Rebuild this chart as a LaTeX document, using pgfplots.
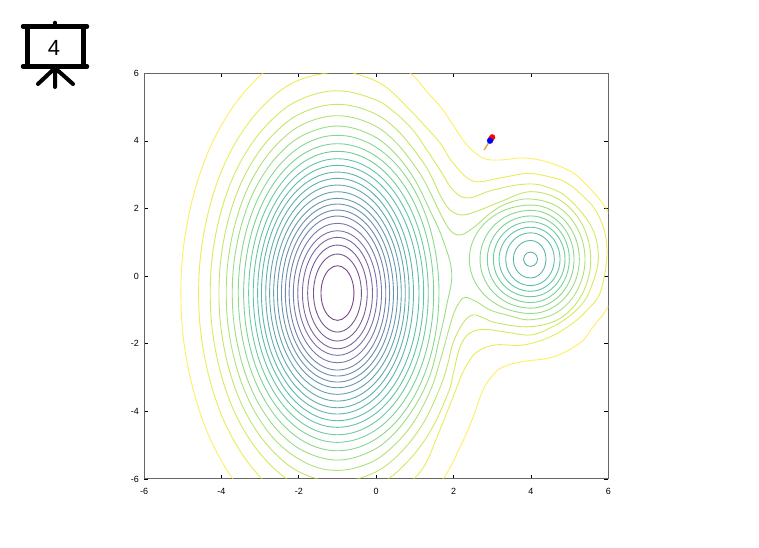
\documentclass[border=0pt]{standalone}
\usepackage{fontspec}
\setmainfont{Liberation Sans}
\usepackage{pgfplots}
\pgfplotsset{compat=1.18}
\definecolor{c1}{HTML}{440154}\definecolor{c2}{HTML}{471164}\definecolor{c3}{HTML}{481F70}\definecolor{c4}{HTML}{472D7B}\definecolor{c5}{HTML}{443A83}
\definecolor{c6}{HTML}{404688}\definecolor{c7}{HTML}{3B528B}\definecolor{c8}{HTML}{365D8D}\definecolor{c9}{HTML}{31688E}\definecolor{c10}{HTML}{2C728E}
\definecolor{c11}{HTML}{287C8E}\definecolor{c12}{HTML}{24868E}\definecolor{c13}{HTML}{21908C}\definecolor{c14}{HTML}{1F9A8A}\definecolor{c15}{HTML}{20A486}
\definecolor{c16}{HTML}{27AD81}\definecolor{c17}{HTML}{35B779}\definecolor{c18}{HTML}{47C16E}\definecolor{c19}{HTML}{5DC863}\definecolor{c20}{HTML}{75D054}
\definecolor{c21}{HTML}{8FD744}\definecolor{c22}{HTML}{AADC32}\definecolor{c23}{HTML}{C7E020}\definecolor{c24}{HTML}{E3E418}\definecolor{c25}{HTML}{FDE725}
\pgfplotsset{ct/.style={#1,line width=0.9bp,mark=none,smooth cycle,tension=0.63,opacity=0.72}}
\begin{document}
\begin{tikzpicture}[x=1bp,y=1bp]
\useasboundingbox (0,0) rectangle (759,548);
\begin{axis}[at={(144bp,69bp)},anchor=south west,scale only axis,width=464.3bp,height=405.7bp,
 xmin=-6,xmax=6,ymin=-6,ymax=6,
 xtick={-6,-4,-2,0,2,4,6},ytick={-6,-4,-2,0,2,4,6},
 xticklabels={-6,-4,-2,0,2,4,6},yticklabels={-6,-4,-2,0,2,4,6},
 tick align=inside,major tick length=4bp,
 tick style={black,line width=0.6bp},
 axis line style={black!60,line width=1bp},
 tick label style={font=\fontsize{9}{10}\selectfont,inner sep=0pt},
 xticklabel shift=9bp,yticklabel shift=5bp,
 axis on top=false]
% main well
\addplot[ct=c1] coordinates {(-.574,-.5)(-.631,-.096)(-.787,.199)(-1,.308)(-1.213,.199)(-1.369,-.096)(-1.426,-.5)(-1.369,-.904)(-1.213,-1.199)(-1,-1.308)(-.787,-1.199)(-.631,-.904)};
\addplot[ct=c2] coordinates {(-.380,-.5)(-.463,.077)(-.690,.499)(-1,.654)(-1.310,.499)(-1.537,.077)(-1.620,-.5)(-1.537,-1.077)(-1.310,-1.499)(-1,-1.654)(-.690,-1.499)(-.463,-1.077)};
\addplot[ct=c3] coordinates {(-.230,-.5)(-.333,.210)(-.615,.730)(-1,.920)(-1.385,.730)(-1.667,.210)(-1.770,-.5)(-1.667,-1.210)(-1.385,-1.730)(-1,-1.920)(-.615,-1.730)(-.333,-1.210)};
\addplot[ct=c4] coordinates {(-.095,-.5)(-.216,.324)(-.548,.927)(-1,1.148)(-1.452,.927)(-1.784,.324)(-1.905,-.5)(-1.784,-1.324)(-1.452,-1.927)(-1,-2.148)(-.548,-1.927)(-.216,-1.324)};
\addplot[ct=c5] coordinates {(.026,-.5)(-.111,.421)(-.487,1.096)(-1,1.343)(-1.513,1.096)(-1.889,.421)(-2.026,-.5)(-1.889,-1.421)(-1.513,-2.096)(-1,-2.343)(-.487,-2.096)(-.111,-1.421)};
\addplot[ct=c6] coordinates {(.140,-.5)(-.013,.531)(-.430,1.286)(-1,1.562)(-1.570,1.286)(-1.987,.531)(-2.140,-.5)(-1.987,-1.531)(-1.570,-2.286)(-1,-2.562)(-.430,-2.286)(-.013,-1.531)};
\addplot[ct=c7] coordinates {(.249,-.5)(.081,.639)(-.376,1.472)(-1,1.778)(-1.624,1.472)(-2.081,.639)(-2.249,-.5)(-2.081,-1.639)(-1.624,-2.472)(-1,-2.778)(-.376,-2.472)(.081,-1.639)};
\addplot[ct=c8] coordinates {(.347,-.5)(.166,.728)(-.327,1.626)(-1,1.955)(-1.673,1.626)(-2.166,.728)(-2.347,-.5)(-2.166,-1.728)(-1.673,-2.626)(-1,-2.955)(-.327,-2.626)(.166,-1.728)};
\addplot[ct=c9] coordinates {(.448,-.5)(.254,.816)(-.276,1.780)(-1,2.133)(-1.724,1.780)(-2.254,.816)(-2.448,-.5)(-2.254,-1.816)(-1.724,-2.780)(-1,-3.133)(-.276,-2.780)(.254,-1.816)};
\addplot[ct=c10] coordinates {(.551,-.5)(.343,.901)(-.224,1.926)(-1,2.301)(-1.776,1.926)(-2.343,.901)(-2.551,-.5)(-2.343,-1.901)(-1.776,-2.926)(-1,-3.301)(-.224,-2.926)(.343,-1.901)};
\addplot[ct=c11] coordinates {(.649,-.5)(.428,.998)(-.175,2.095)(-1,2.496)(-1.825,2.095)(-2.428,.998)(-2.649,-.5)(-2.428,-1.998)(-1.825,-3.095)(-1,-3.496)(-.175,-3.095)(.428,-1.998)};
\addplot[ct=c12] coordinates {(.753,-.5)(.518,1.097)(-.124,2.267)(-1,2.695)(-1.876,2.267)(-2.518,1.097)(-2.753,-.5)(-2.518,-2.097)(-1.876,-3.267)(-1,-3.695)(-.124,-3.267)(.518,-2.097)};
\addplot[ct=c13] coordinates {(.853,-.5)(.605,1.196)(-.073,2.438)(-1,2.893)(-1.927,2.438)(-2.605,1.196)(-2.853,-.5)(-2.605,-2.196)(-1.927,-3.438)(-1,-3.893)(-.073,-3.438)(.605,-2.196)};
\addplot[ct=c14] coordinates {(.965,-.5)(.701,1.290)(-.018,2.600)(-1,3.079)(-1.982,2.600)(-2.701,1.290)(-2.965,-.5)(-2.701,-2.290)(-1.982,-3.600)(-1,-4.079)(-.018,-3.600)(.701,-2.290)};
\addplot[ct=c15] coordinates {(1.107,-.5)(.824,1.389)(.053,2.771)(-1,3.277)(-2.031,2.771)(-2.786,1.389)(-3.063,-.5)(-2.786,-2.389)(-2.031,-3.771)(-1,-4.277)(.053,-3.771)(.824,-2.389)};
\addplot[ct=c16] coordinates {(1.228,-.5)(.930,1.486)(.114,2.940)(-1,3.473)(-2.088,2.940)(-2.885,1.486)(-3.177,-.5)(-2.885,-2.486)(-2.088,-3.940)(-1,-4.473)(.114,-3.940)(.930,-2.486)};
\addplot[ct=c17] coordinates {(1.347,-.5)(1.033,1.596)(.174,3.130)(-1,3.692)(-2.148,3.130)(-2.988,1.596)(-3.295,-.5)(-2.988,-2.596)(-2.148,-4.130)(-1,-4.692)(.174,-4.130)(1.033,-2.596)};
\addplot[ct=c18] coordinates {(1.487,-.5)(1.154,1.708)(.243,3.325)(-1,3.916)(-2.212,3.325)(-3.100,1.708)(-3.425,-.5)(-3.100,-2.708)(-2.212,-4.325)(-1,-4.916)(.243,-4.325)(1.154,-2.708)};
\addplot[ct=c19] coordinates {(1.624,-.5)(1.272,1.832)(.312,3.540)(-1,4.165)(-2.282,3.540)(-3.221,1.832)(-3.564,-.5)(-3.221,-2.832)(-2.282,-4.540)(-1,-5.165)(.312,-4.540)(1.272,-2.832)};
\addplot[ct=c20] coordinates {(1.953,.094)(1.728,1.069)(1.379,1.972)(.941,2.958)(.36,3.778)(-.25,4.24)(-1,4.440)(-1.75,4.24)(-2.360,3.778)(-2.922,2.993)(-3.355,1.970)(-3.632,.735)(-3.719,-.5)(-3.632,-1.735)(-3.355,-2.970)(-2.922,-3.993)(-2.360,-4.778)(-1.75,-5.24)(-1,-5.440)(-.25,-5.24)(.36,-4.778)(.941,-3.958)(1.379,-2.970)(1.625,-1.888)(1.824,-.853)};
% second well
\addplot[ct=c13] coordinates {(4.171,.5)(4.147,.606)(4.080,.684)(3.99,.713)(3.900,.684)(3.833,.606)(3.809,.5)(3.833,.394)(3.900,.316)(3.99,.287)(4.080,.316)(4.147,.394)};
\addplot[ct=c14] coordinates {(4.391,.5)(4.337,.778)(4.190,.982)(3.99,1.056)(3.768,.982)(3.605,.778)(3.545,.5)(3.605,.222)(3.768,.018)(3.99,-.056)(4.190,.018)(4.337,.222)};
\addplot[ct=c15] coordinates {(4.605,.5)(4.523,.890)(4.298,1.176)(3.99,1.281)(3.670,1.176)(3.435,.890)(3.349,.5)(3.435,.110)(3.670,-.176)(3.99,-.281)(4.298,-.176)(4.523,.110)};
\addplot[ct=c16] coordinates {(4.753,.5)(4.650,.973)(4.371,1.320)(3.99,1.447)(3.583,1.320)(3.285,.973)(3.176,.5)(3.285,.027)(3.583,-.320)(3.99,-.447)(4.371,-.320)(4.650,.027)};
\addplot[ct=c17] coordinates {(4.882,.5)(4.762,1.055)(4.436,1.461)(3.99,1.609)(3.509,1.461)(3.157,1.055)(3.028,.5)(3.157,-.055)(3.509,-.461)(3.99,-.609)(4.436,-.461)(4.762,-.055)};
\addplot[ct=c18] coordinates {(4.993,.5)(4.859,1.140)(4.491,1.609)(3.99,1.781)(3.432,1.609)(3.023,1.140)(2.873,.5)(3.023,-.140)(3.432,-.609)(3.99,-.781)(4.491,-.609)(4.859,-.140)};
\addplot[ct=c19] coordinates {(5.114,.5)(4.964,1.223)(4.552,1.752)(3.99,1.946)(3.337,1.752)(2.860,1.223)(2.685,.5)(2.860,-.223)(3.337,-.752)(3.99,-.946)(4.552,-.752)(4.964,-.223)};
\addplot[ct=c20] coordinates {(5.251,.5)(5.082,1.302)(4.621,1.888)(3.99,2.103)(3.199,1.888)(2.620,1.302)(2.408,.5)(2.620,-.302)(3.199,-.888)(3.99,-1.103)(4.621,-.888)(5.082,-.302)};
% contours around both wells
\addplot[ct=c21] coordinates {(-1,4.745)(-1.805,4.535)(-2.437,4.042)(-3.033,3.208)(-3.489,2.122)(-3.783,.811)(-3.875,-.5)(-3.783,-1.811)(-3.489,-3.122)(-3.033,-4.208)(-2.437,-5.042)(-1.69,-5.59)(-1,-5.745)(-.31,-5.59)(.254,-5.22)(.9,-4.434)(1.4,-3.385)(1.67,-2.44)(1.85,-1.7)(2.0,-1.12)(2.15,-.78)(2.297,-.625)(2.607,-.764)(2.943,-1.001)(3.382,-1.149)(3.99,-1.291)(4.700,-1.051)(5.207,-.397)(5.398,.499)(5.207,1.395)(4.700,2.046)(3.99,2.282)(3.382,2.149)(2.943,1.853)(2.503,1.425)(2.167,1.217)(1.909,1.365)(1.651,1.868)(1.386,2.5)(1.053,3.17)(.437,4.042)(-.195,4.535)};
\addplot[ct=c22] coordinates {(-1,5.082)(-1.858,4.86)(-2.532,4.334)(-3.166,3.447)(-3.653,2.291)(-3.965,.896)(-4.063,-.5)(-3.965,-1.896)(-3.653,-3.291)(-3.166,-4.447)(-2.532,-5.334)(-1.858,-5.86)(-1,-6.082)(-.142,-5.86)(.532,-5.334)(1.187,-4.407)(1.653,-3.291)(1.85,-2.6)(1.987,-1.977)(2.245,-1.386)(2.503,-1.149)(2.8,-1.25)(3.124,-1.386)(3.99,-1.495)(4.778,-1.231)(5.339,-.498)(5.546,.499)(5.339,1.498)(4.778,2.229)(3.99,2.498)(3.201,2.193)(2.685,1.957)(2.245,1.809)(1.909,1.957)(1.651,2.400)(1.45,2.9)(1.172,3.436)(.532,4.334)(-.142,4.86)};
\addplot[ct=c23] coordinates {(-1,5.484)(-1.92,5.245)(-2.644,4.682)(-3.325,3.731)(-3.848,2.492)(-4.183,.996)(-4.288,-.5)(-4.183,-1.996)(-3.848,-3.492)(-3.325,-4.731)(-2.644,-5.682)(-1.92,-6.24)(-1,-6.484)(-.08,-6.24)(.644,-5.682)(1.348,-4.689)(1.848,-3.492)(2.0,-2.85)(2.167,-2.095)(2.426,-1.680)(2.814,-1.578)(3.331,-1.652)(3.99,-1.740)(4.493,-1.533)(4.933,-1.237)(5.3,-.85)(5.528,-.409)(5.742,.499)(5.579,1.424)(5.011,2.253)(4.493,2.607)(3.899,2.726)(3.020,2.548)(2.374,2.311)(1.987,2.548)(1.651,3.140)(1.3,3.75)(.948,4.323)(.434,4.886)(-.08,5.245)};
\addplot[ct=c24] coordinates {(-1,6.055)(-2.005,5.793)(-2.794,5.177)(-3.537,4.134)(-4.107,2.778)(-4.473,1.139)(-4.588,-.5)(-4.473,-2.139)(-4.107,-3.778)(-3.537,-5.134)(-2.794,-6.177)(-2.005,-6.793)(-1,-7.055)(.005,-6.793)(.794,-6.177)(1.246,-5.613)(1.573,-4.757)(1.987,-3.575)(2.2,-2.95)(2.374,-2.569)(2.607,-2.243)(3.072,-2.036)(3.796,-2.036)(4.493,-1.799)(5.088,-1.385)(5.47,-.98)(5.786,-.498)(5.959,.499)(5.915,1.277)(5.708,1.868)(5.450,2.252)(4.933,2.755)(4.493,2.933)(3.899,3.037)(3.201,2.903)(2.503,2.814)(1.987,3.347)(1.651,3.938)(1.27,4.43)(.875,4.915)(.177,5.654)(-.598,6.008)};
\addplot[ct=c25] coordinates {(-1,6.895)(-2.133,6.599)(-3.023,5.904)(-3.861,4.728)(-4.503,3.198)(-4.917,1.349)(-5.046,-.5)(-4.917,-2.349)(-4.503,-4.198)(-3.861,-5.728)(-3.023,-6.904)(-2.133,-7.599)(-1,-7.895)(.133,-7.599)(1.023,-6.904)(1.728,-6)(2.15,-5.1)(2.478,-4.254)(2.762,-3.367)(3.020,-2.923)(3.279,-2.687)(3.796,-2.525)(4.571,-2.391)(5.269,-1.977)(5.605,-1.503)(5.993,-.912)(6.2,-.3)(6.251,.48)(6.2,1.2)(5.993,1.898)(5.605,2.489)(5.088,3.051)(4.416,3.377)(3.796,3.495)(3.201,3.435)(2.762,3.495)(2.348,3.879)(1.987,4.471)(1.728,4.915)(1.3,5.47)(.875,6.009)(0,6.666)};
% trajectory
\addplot[color={rgb,255:red,232;green,163;blue,61},line width=1.4bp,mark=none] coordinates {(2.788,3.731)(2.943,4.007)};
\addplot[only marks,mark=*,mark size=2.8bp,red,mark options={draw=none,fill=red}] coordinates {(3.00,4.107)(2.97,4.06)};
\addplot[only marks,mark=*,mark size=2.9bp,blue,mark options={draw=none,fill=blue}] coordinates {(2.943,4.007)};
\end{axis}
% slide icon
\draw[line width=5bp,black] (27.5,548-27)--(27.5,548-66) (83.5,548-27)--(83.5,548-66);
\draw[line width=4.5bp,black,line cap=round] (23,548-26.5)--(87,548-26.5) (23,548-66.5)--(87,548-66.5);
\draw[line width=3.5bp,black,line cap=round] (55,548-22.5)--(55,548-26);
\draw[line width=4bp,black,line cap=round] (55,548-67)--(55,548-87) (55,548-68)--(38,548-84) (55,548-68)--(73,548-84);
\node[font=\fontsize{22}{24}\selectfont,inner sep=0pt] at (54,548-48) {4};
\end{tikzpicture}
\end{document}
